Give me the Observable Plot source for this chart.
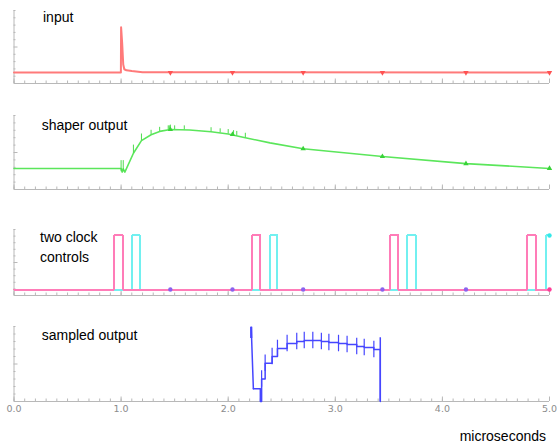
<!DOCTYPE html>
<html><head><meta charset="utf-8">
<script src="https://cdn.jsdelivr.net/npm/d3@7"></script>
<script src="https://cdn.jsdelivr.net/npm/@observablehq/plot@0.6"></script>
<style>
body{margin:0;background:#fff;}
#chart{position:relative;width:557px;height:443px;overflow:hidden;background:#fff;font-family:"Liberation Sans",Arial,sans-serif;}
#chart svg{position:absolute;left:0;}
</style></head><body><div id="chart"></div>
<script>
// ---------- data ----------
const xTickLabels = [0, 1, 2, 3, 4, 5];
const markerTimes = [1.46, 2.04, 2.70, 3.44, 4.22, 5.0];

// panel 1: input
const inputT = [0, 0.998, 1.0, 1.01, 1.02, 1.03, 1.05, 1.1, 1.2, 5.0];
const inputV = [1.5, 1.5, 7.7, 5.5, 2.6, 1.95, 1.8, 1.7, 1.55, 1.5];
const inputMarkerV = [1.5, 1.5, 1.5, 1.5, 1.5, 1.5];

// panel 2: shaper output
const shaperT = [0, 1.0, 1.01, 1.02, 1.035, 1.115, 1.19, 1.28, 1.36, 1.46, 1.64, 1.84, 2.0, 2.16, 2.39, 2.70, 3.44, 4.22, 5.0];
const shaperV = [2.84, 2.84, 2.35, 2.8, 2.35, 4.9, 6.6, 7.4, 7.85, 8.1, 8.05, 7.8, 7.5, 7.0, 6.3, 5.5, 4.46, 3.5, 2.84];
const shaperMarkerV = [8.1, 7.45, 5.5, 4.46, 3.5, 2.84];
const shaperGlitchT  = [1.0, 1.02, 1.115, 1.19, 1.28, 1.36, 1.44, 1.45, 1.46, 1.50, 1.59, 1.84, 1.925, 2.0, 2.05, 2.08, 2.16];
const shaperGlitchLo = [2.4, 2.4, 4.9, 6.6, 7.4, 7.85, 8.05, 8.08, 8.1, 8.1, 8.07, 7.8, 7.65, 7.5, 7.35, 7.25, 7.0];
const shaperGlitchHi = [3.9, 3.9, 6.0, 7.5, 8.0, 8.4, 8.6, 8.6, 8.7, 8.6, 8.6, 8.35, 8.2, 8.1, 7.95, 7.85, 7.6];

// panel 3: two clock controls
const pinkT = [0, 0.935, 1.02, 2.225, 2.30, 3.51, 3.59, 4.79, 4.87, 5.0];
const pinkV = [0.9, 9.1, 0.9, 9.1, 0.9, 9.1, 0.9, 9.1, 0.9, 0.9];
const cyanT = [0, 1.10, 1.178, 2.39, 2.46, 3.67, 3.75, 4.965, 5.0];
const cyanV = [0.9, 9.1, 0.9, 9.1, 0.9, 9.1, 0.9, 9.1, 9.1];
const clockMarkerT = [1.46, 2.04, 2.70, 3.44, 4.22];
const clockMarkerV = [0.9, 0.9, 0.9, 0.9, 0.9];

// panel 4: sampled output
const sampleT = [2.215, 2.235, 2.300, 2.312, 2.345, 2.41, 2.46, 2.55, 2.64, 2.71, 2.79, 2.87, 2.94, 3.03, 3.11, 3.20, 3.27, 3.36, 3.42];
const sampleV = [9.9, 1.7, 0, 3.0, 5.1, 6.0, 7.07, 7.73, 8.0, 8.13, 8.13, 8.0, 7.87, 7.73, 7.6, 7.33, 7.2, 6.93, 0];
const sampleEndTop = 8.5;

const panelLabels = [["input"], ["shaper output"], ["two clock", "controls"], ["sampled output"]];
const xAxisTitle = "microseconds";

// ---------- drawing ----------
const W = 557;
const AXIS = "#b8b8b8";
const chart = document.getElementById("chart");
const rows = (T, V) => T.map((t, i) => ({t, v: V[i]}));

function frame(pxPerUnit) {
  const minor = d3.range(0, 51).map(i => i / 10);
  const yt = d3.range(1, 11);
  const xu = 107.1; // px per x unit
  return [
    Plot.ruleY([0], {x1: 0, x2: 5, stroke: AXIS}),
    Plot.ruleX([0], {y1: 0, y2: 10, stroke: AXIS}),
    Plot.ruleX(minor, {x: d => d, y1: 0, y2: 2.5 / pxPerUnit, stroke: AXIS}),
    Plot.ruleX(xTickLabels, {x: d => d, y1: 0, y2: 4.5 / pxPerUnit, stroke: AXIS}),
    Plot.ruleY(yt, {y: d => d, x1: 0, x2: d => (d === 5 ? 4 : 2) / xu, stroke: AXIS})
  ];
}

function panel(top, mt, plotH, mb, marks, withAxis) {
  const h = mt + plotH + mb;
  const ppu = plotH / 10;
  const all = [...frame(ppu), ...marks];
  if (withAxis) all.push(Plot.axisX(xTickLabels, {
    tickSize: 0, tickPadding: 4, tickFormat: d3.format(".1f"), label: null,
    fill: "#8c8c8c", fontSize: 9.5, fontFamily: "DejaVu Sans"
  }));
  const svg = Plot.plot({
    width: W, height: h,
    marginLeft: 13.5, marginRight: 8, marginTop: mt, marginBottom: mb,
    x: withAxis ? {domain: [0, 5], label: null} : {domain: [0, 5], axis: null, label: null},
    y: {domain: [0, 10], axis: null, label: null},
    style: {background: "transparent", fontFamily: "Liberation Sans, sans-serif", overflow: "visible"},
    marks: all
  });
  svg.style.top = top + "px";
  chart.appendChild(svg);
}

// panel 1
panel(0, 10, 73, 3, [
  Plot.line(rows(inputT, inputV), {x: "t", y: "v", stroke: "#ff7a7a", strokeWidth: 2}),
  Plot.dot(rows(markerTimes, inputMarkerV), {x: "t", y: "v", symbol: "triangle", rotate: 180, r: 2.0, fill: "#ff5252"})
]);

// panel 2
panel(100, 15, 74, 3, [
  Plot.line(rows(shaperT, shaperV), {x: "t", y: "v", stroke: "#5be65b", strokeWidth: 1.6}),
  Plot.ruleX(shaperGlitchT.map((t, i) => ({t, lo: shaperGlitchLo[i], hi: shaperGlitchHi[i]})), {x: "t", y1: "lo", y2: "hi", stroke: "#4cdc4c", strokeWidth: 1}),
  Plot.dot(rows(markerTimes, shaperMarkerV), {x: "t", y: "v", symbol: "triangle", r: 2.0, fill: "#38d238"})
]);

// panel 3
panel(215, 14, 66, 3, [
  Plot.line(rows(cyanT, cyanV), {x: "t", y: "v", curve: "step-after", stroke: "#72f0f0", strokeWidth: 2, shapeRendering: "crispEdges"}),
  Plot.line(rows(pinkT, pinkV), {x: "t", y: "v", curve: "step-after", stroke: "#ff7cb8", strokeWidth: 2, shapeRendering: "crispEdges"}),
  Plot.dot(rows(clockMarkerT, clockMarkerV), {x: "t", y: "v", r: 2.2, fill: "#8a62ee"}),
  Plot.dot([{t: 5.0, v: 0.9}], {x: "t", y: "v", r: 2.2, fill: "#ff3d98"}),
  Plot.dot([{t: 5.0, v: 9.1}], {x: "t", y: "v", r: 2.2, fill: "#33e8e8"})
]);

// panel 4
const sRows = rows(sampleT, sampleV);
panel(310, 16, 75, 18, [
  Plot.line(sRows.slice(0, 2), {x: "t", y: "v", stroke: "#4646ff", strokeWidth: 1.5}),
  Plot.line(sRows.slice(1), {x: "t", y: "v", curve: "step-after", stroke: "#4646ff", strokeWidth: 1.5}),
  Plot.ruleX(sRows.slice(3, sRows.length - 1), {x: "t", y1: d => d.v - 1.1, y2: d => d.v + 1.1, stroke: "#4646ff", strokeWidth: 1.2}),
  Plot.ruleX([sRows[0]], {x: "t", y1: d => d.v - 1.5, y2: d => d.v, stroke: "#4646ff", strokeWidth: 2.2}),
  Plot.ruleX([sRows[sRows.length - 1]], {x: "t", y1: 0, y2: sampleEndTop, stroke: "#4646ff", strokeWidth: 1.5})
], true);

// text overlay
const ov = d3.select(chart).append("svg").attr("width", W).attr("height", 443).style("top", "0px")
  .style("font-family", "Liberation Sans, Arial, sans-serif").style("font-size", "14px");
const labelPos = [[43, 22], [41.7, 130], [40, 241.5], [41.7, 340]];
panelLabels.forEach((lines, i) => {
  lines.forEach((s, j) => {
    ov.append("text").attr("x", labelPos[i][0]).attr("y", labelPos[i][1] + j * 20).attr("fill", "#000").text(s);
  });
});
ov.append("text").attr("x", 546).attr("y", 440.5).attr("text-anchor", "end").attr("fill", "#000").text(xAxisTitle);
</script>
</body></html>
